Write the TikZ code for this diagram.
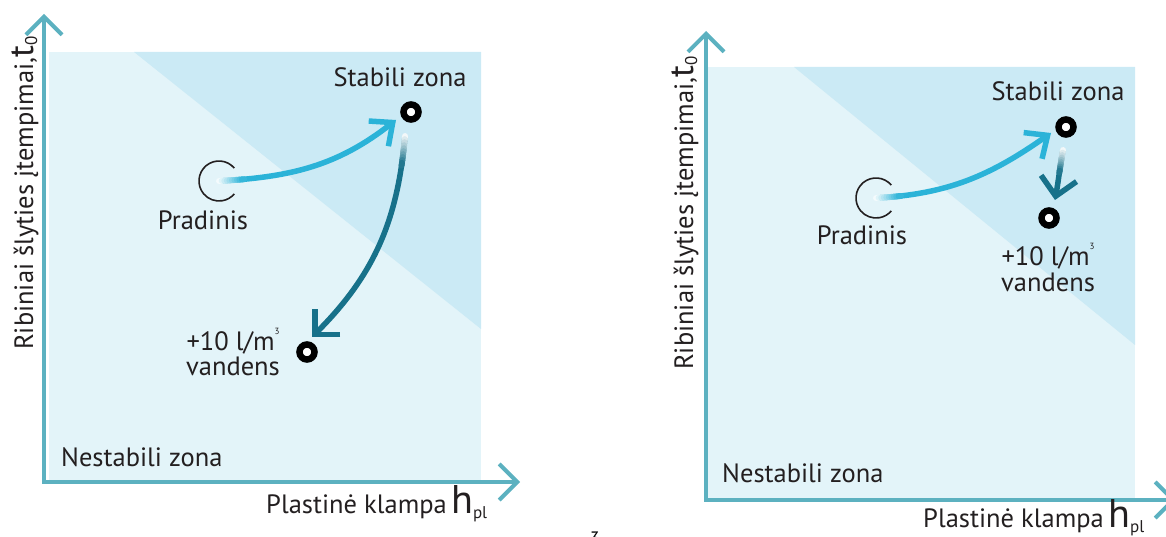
\documentclass[tikz,border=0pt]{standalone}
\usepackage{fontspec}
\setmainfont{PT Sans}
\usetikzlibrary{arrows.meta,calc}
\definecolor{bgL}{HTML}{E3F4F9}
\definecolor{bgD}{HTML}{CBEAF5}
\definecolor{axisC}{HTML}{5CB1C0}
\definecolor{cyanA}{HTML}{2BB3D8}
\definecolor{tealA}{HTML}{17718A}
\definecolor{txt}{HTML}{231F20}
\tikzset{
  axisline/.style={draw=axisC, line width=4pt, line join=miter,
    {Straight Barb[length=18pt,width=36pt]}-{Straight Barb[length=18pt,width=36pt]}},
  ring/.style={circle, draw=black, line width=6.5pt, fill=white, minimum size=15pt, inner sep=0pt},
  lbl/.style={text=txt, font=\fontsize{26.5}{29}\selectfont, inner sep=0pt},
  arrL/.style={draw=cyanA, line width=5.5pt, -{Straight Barb[length=18pt,width=32pt]}},
  arrD/.style={draw=tealA, line width=5.5pt, -{Straight Barb[length=18pt,width=36pt]}},
  startcirc/.style={draw=txt, line width=1.6pt},
}
\newcommand\fdstart[6]{%
  \foreach \k in {0,...,9}{%
    \pgfmathsetmacro\fdpa{#6*\k/10}%
    \pgfmathsetmacro\fdpb{#6*(\k+1)/10}%
    \pgfmathtruncatemacro\fdmix{\k*10+5}%
    \path (#1) to[out=#3,in=#4] coordinate[pos=\fdpa] (fa) coordinate[pos=\fdpb] (fb) (#2);
    \draw[draw=#5!\fdmix!white, line width=5.9pt, line cap=round] (fa) -- (fb);
  }}
\newcommand\hpl{{\fontsize{40}{40}\selectfont h}\raisebox{-0.35ex}{\fontsize{17}{17}\selectfont pl}}
\newcommand\tzero{{\fontsize{35}{35}\selectfont t}\raisebox{-0.3ex}{\fontsize{17}{17}\selectfont 0}}
\newcommand\mcube{\raisebox{1.2ex}{\fontsize{9}{9}\selectfont 3}}
\begin{document}
\begin{tikzpicture}[x=1pt,y=1pt]
\useasboundingbox (0,0) rectangle (1166,-537);
% ---------- left panel ----------
\fill[bgL] (49,-52) rectangle (481,-482);
\fill[bgD] (134,-52) -- (481,-52) -- (481,-329) -- cycle;
\coordinate (o1) at (44,-482);
\coordinate (yt1) at (44,-14);
\coordinate (xt1) at (520,-482);
\draw[axisline] (yt1) -- (o1) -- (xt1);
\node[lbl] (st1) at (400,-77) {Stabili zona};
\node[lbl] (pr1) at (203,-220) {Pradinis};
\node[lbl] (wa1) at (233,-341) {+10 l/m\mcube};
\node[lbl] (wb1) at (233,-366) {vandens};
\node[lbl, anchor=west] (ns1) at (61,-457) {Nestabili zona};
\node[lbl, anchor=west] (xl1) at (266,-504) {Plastinė klampa\,\hpl};
\node[lbl, rotate=90, anchor=west] (yl1) at (25,-350) {Ribiniai šlyties įtempimai,\tzero};
\coordinate (p1) at (219,-181);
\draw[startcirc] (p1) ++(40:20) arc[start angle=40, end angle=320, radius=20];
\node[ring] (s1) at (411,-112) {};
\node[ring] (w1) at (307,-352) {};
\coordinate (a1) at ($(s1)+(-15,-8)$);
\coordinate (d1s) at ($(s1)+(-6,-24)$);
\coordinate (d1e) at ($(w1)+(5,15)$);
\draw[arrL] (p1) to[out=3,in=218] (a1);
\fdstart{p1}{a1}{3}{218}{cyanA}{0.12}
\draw[arrD] (d1s) to[out=-95,in=45] (d1e);
\fdstart{d1s}{d1e}{-95}{45}{tealA}{0.12}
% ---------- right panel ----------
\fill[bgL] (708,-67) rectangle (1135,-500);
\fill[bgD] (794,-67) -- (1135,-67) -- (1135,-345) -- cycle;
\coordinate (o2) at (706,-500);
\coordinate (yt2) at (706,-31);
\coordinate (xt2) at (1176,-500);
\draw[axisline] (yt2) -- (o2) -- (xt2);
\node[lbl] (st2) at (1058,-91.5) {Stabili zona};
\node[lbl] (pr2) at (862,-235.5) {Pradinis};
\node[lbl] (wa2) at (1048,-256) {+10 l/m\mcube};
\node[lbl] (wb2) at (1048,-282) {vandens};
\node[lbl, anchor=west] (ns2) at (722,-473) {Nestabili zona};
\node[lbl, anchor=west] (xl2) at (923,-518) {Plastinė klampa\,\hpl};
\node[lbl, rotate=90, anchor=west] (yl2) at (685,-370) {Ribiniai šlyties įtempimai,\tzero};
\coordinate (p2) at (876,-198);
\draw[startcirc] (p2) ++(40:20) arc[start angle=40, end angle=320, radius=20];
\node[ring] (s2) at (1066,-127) {};
\node[ring] (w2) at (1049,-218) {};
\coordinate (a2) at ($(s2)+(-15,-6)$);
\coordinate (d2s) at ($(s2)+(-3,-23)$);
\coordinate (d2e) at ($(w2)+(6,18)$);
\draw[arrL] (p2) to[out=3,in=215] (a2);
\fdstart{p2}{a2}{3}{215}{cyanA}{0.12}
\draw[arrD] (d2s) to[out=-100,in=80] (d2e);
\fdstart{d2s}{d2e}{-100}{80}{tealA}{0.45}
% stray page number fragment
\node[text=black, font=\fontsize{18}{18}\selectfont, anchor=north, inner sep=0pt] (pg) at (595,-532) {3};
\end{tikzpicture}
\end{document}
